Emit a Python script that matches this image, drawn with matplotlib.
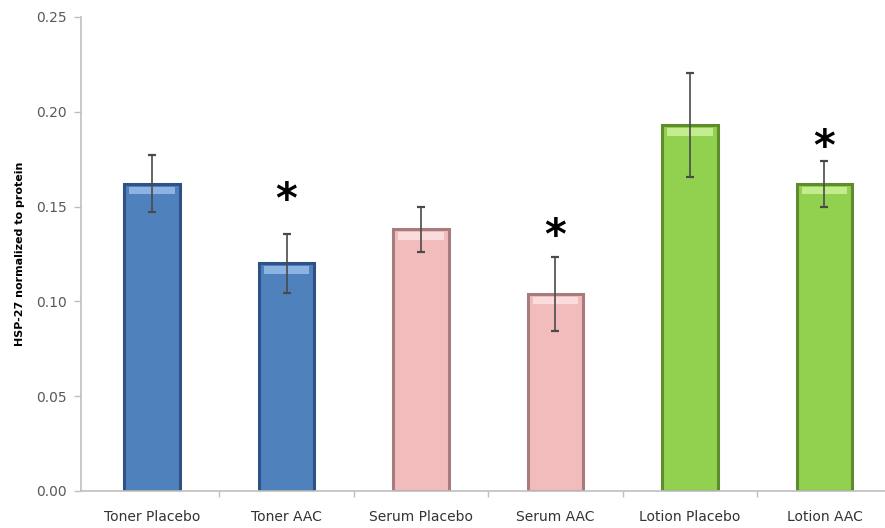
import matplotlib.pyplot as plt
import numpy as np

# HSP-27 levels per product / treatment
categories = ["Toner Placebo", "Toner AAC", "Serum Placebo", "Serum AAC",
              "Lotion Placebo", "Lotion AAC"]
means = [0.162, 0.120, 0.138, 0.104, 0.193, 0.162]
errors = [0.015, 0.0155, 0.012, 0.0195, 0.0275, 0.012]
# where the significance asterisks sit (None = not significant)
star_levels = [None, 0.142, None, 0.123, None, 0.170]

face_colors = ["#4F81BD", "#4F81BD", "#F2BCBC", "#F2BCBC", "#92D050", "#92D050"]
edge_colors = ["#2F5185", "#2F5185", "#A87C7C", "#A87C7C", "#5E8C2C", "#5E8C2C"]
top_colors = ["#8DB3E2", "#8DB3E2", "#FADCDC", "#FADCDC", "#C2EC8E", "#C2EC8E"]

fig = plt.figure(figsize=(8.85, 5.28), dpi=100)
ax = fig.add_axes([81 / 885, 37 / 528, 804 / 885, 474 / 528])

x = np.arange(len(categories))
width = 0.41

ax.bar(x, means, width=width, color=face_colors, edgecolor=edge_colors,
       linewidth=2.2, zorder=2)
# light bevel strip along the top of each bar
for xi, m, tc in zip(x, means, top_colors):
    ax.bar(xi, 0.004, bottom=m - 0.0055, width=width * 0.82, color=tc,
           linewidth=0, zorder=3)

ax.errorbar(x, means, yerr=errors, fmt="none", ecolor="#4A4A4A",
            elinewidth=1.2, capsize=3, capthick=1.6, zorder=4)

for xi, s in zip(x, star_levels):
    if s is not None:
        ax.text(xi, s, "*", ha="center", va="bottom",
                fontsize=30, fontweight="bold", color="black", zorder=5)

ax.set_xlim(-0.528, 5.45)
ax.set_ylim(0, 0.25)
ax.set_yticks(np.arange(0, 0.251, 0.05))
ax.set_yticklabels([f"{v:.2f}" for v in np.arange(0, 0.251, 0.05)])
ax.set_xticks(x)
ax.set_xticklabels(categories)
ax.set_xticks(np.arange(0.5, 5.0, 1.0), minor=True)

ax.tick_params(axis="x", which="major", length=0, pad=14, labelsize=10,
               labelcolor="#333333")
ax.tick_params(axis="x", which="minor", length=4, color="#BFBFBF", width=1)
ax.tick_params(axis="y", length=5, color="#BFBFBF", width=1, labelsize=10,
               labelcolor="#595959", pad=5)

for side in ["top", "right"]:
    ax.spines[side].set_visible(False)
for side in ["left", "bottom"]:
    ax.spines[side].set_color("#BFBFBF")
    ax.spines[side].set_linewidth(1.2)

ax.set_ylabel("HSP-27 normalized to protein", fontsize=8, fontweight="bold",
              labelpad=8)

fig.savefig("out.png", dpi=100)
